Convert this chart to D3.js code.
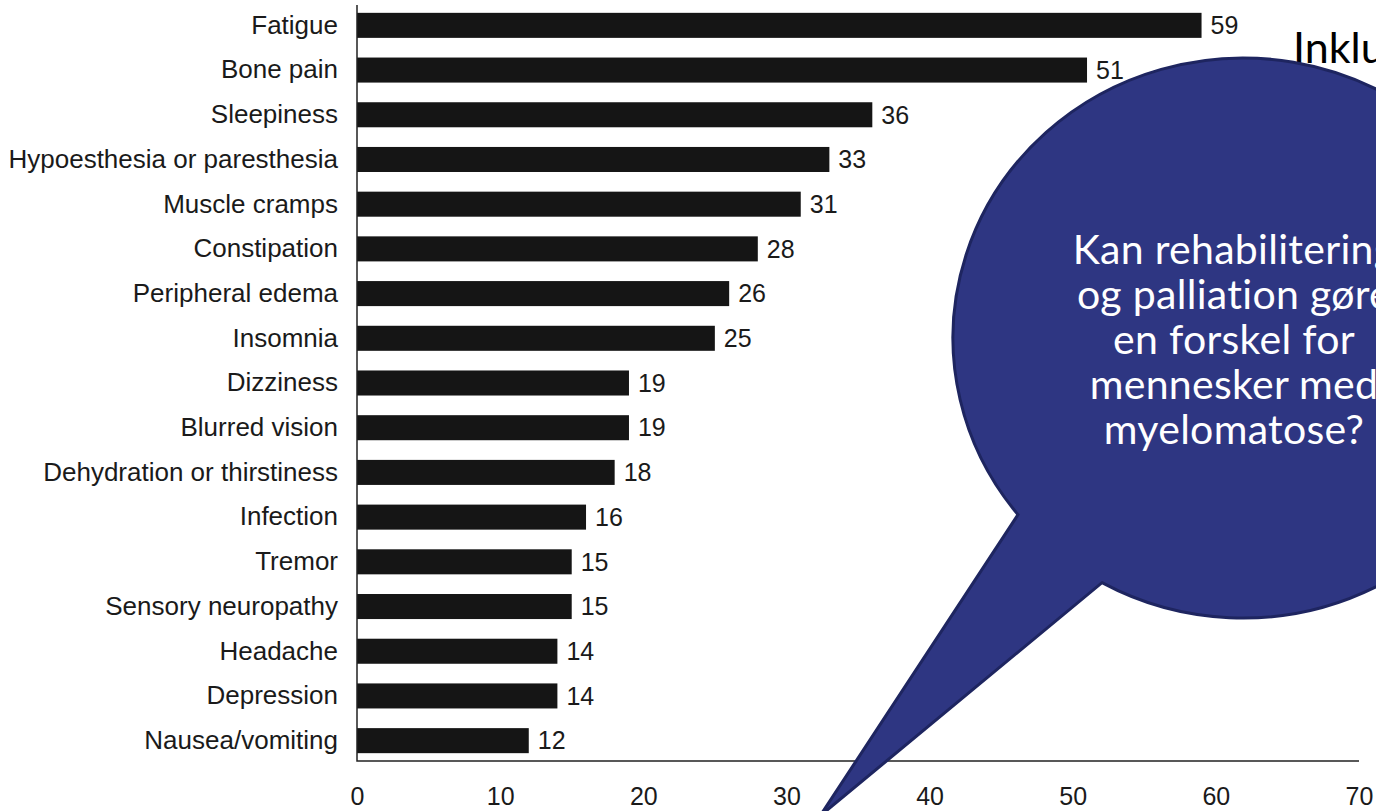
<!DOCTYPE html>
<html>
<head>
<meta charset="utf-8">
<script src="https://cdn.jsdelivr.net/npm/d3@7"></script>
<style>
  html, body { margin: 0; padding: 0; background: #fff; }
  svg { display: block; }
  .axis text { font-family: "Liberation Sans", Arial, sans-serif; fill: #1a1a1a; }
  .bubble-text {
    font-family: Lato, "Open Sans", sans-serif;
    fill: #fff;
    font-variant-ligatures: none;
    font-feature-settings: "liga" 0, "clig" 0, "dlig" 0;
    letter-spacing: 0.3px;
  }
</style>
</head>
<body>
<div id="chart"></div>
<script>
const symptoms = [
  "Fatigue",
  "Bone pain",
  "Sleepiness",
  "Hypoesthesia or paresthesia",
  "Muscle cramps",
  "Constipation",
  "Peripheral edema",
  "Insomnia",
  "Dizziness",
  "Blurred vision",
  "Dehydration or thirstiness",
  "Infection",
  "Tremor",
  "Sensory neuropathy",
  "Headache",
  "Depression",
  "Nausea/vomiting",
];
const percentages = [59, 51, 36, 33, 31, 28, 26, 25, 19, 19, 18, 16, 15, 15, 14, 14, 12];
const xTicks = [0, 10, 20, 30, 40, 50, 60, 70];
const bubbleLines = [
  "Kan rehabilitering",
  "og palliation gøre",
  "en forskel for",
  "mennesker med",
  "myelomatose?",
];
const headingText = "Inklusion";

class SymptomBars {
  constructor({ el, width, height }) {
    this.el = el;
    this.width = width;
    this.height = height;
    this.init();
  }

  init() {
    this.svg = d3
      .select(this.el)
      .append("svg")
      .attr("width", this.width)
      .attr("height", this.height);

    this.x = d3.scaleLinear().domain([0, 70]).range([357, 1359]);
    this.y = d3
      .scaleBand()
      .domain(symptoms)
      .range([3, 763])
      .paddingInner(0.44)
      .paddingOuter(0.22);

    this.data = symptoms.map((name, i) => ({ name, value: percentages[i] }));
  }

  render() {
    this.renderBars();
    this.renderAxes();
    this.renderHeading();
    this.renderBubble();
  }

  renderBars() {
    const g = this.svg.append("g").attr("class", "bars");

    g.selectAll("rect")
      .data(this.data)
      .join("rect")
      .attr("x", this.x(0))
      .attr("y", (d) => this.y(d.name))
      .attr("width", (d) => this.x(d.value) - this.x(0))
      .attr("height", this.y.bandwidth())
      .attr("fill", "#151515");

    g.selectAll("text")
      .data(this.data)
      .join("text")
      .attr("x", (d) => this.x(d.value) + 9)
      .attr("y", (d) => this.y(d.name) + this.y.bandwidth() / 2)
      .attr("dy", "0.35em")
      .attr("font-family", "Liberation Sans, Arial, sans-serif")
      .attr("font-size", 25)
      .attr("fill", "#1a1a1a")
      .text((d) => d.value);
  }

  renderAxes() {
    const bottom = 761;

    this.svg
      .append("g")
      .attr("class", "axis axis--x")
      .attr("transform", `translate(0,${bottom})`)
      .call(
        d3.axisBottom(this.x).tickValues(xTicks).tickSize(0).tickPadding(26)
      )
      .call((g) => g.select(".domain").remove())
      .call((g) => g.selectAll("text").attr("font-size", 25));

    this.svg
      .append("g")
      .attr("class", "axis axis--y")
      .attr("transform", `translate(${this.x(0)},0)`)
      .call(d3.axisLeft(this.y).tickSize(0).tickPadding(19))
      .call((g) => g.select(".domain").remove())
      .call((g) => g.selectAll("text").attr("font-size", 26));

    // plain L-shaped frame, left and bottom only
    this.svg
      .append("path")
      .attr("fill", "none")
      .attr("stroke", "#222")
      .attr("stroke-width", 1.5)
      .attr("d", `M${this.x(0)},5V${bottom}H${this.x(70)}`);
  }

  renderHeading() {
    this.svg
      .append("text")
      .attr("x", 1293)
      .attr("y", 63)
      .attr("font-family", "Lato, Open Sans, sans-serif")
      .attr("font-size", 43)
      .attr("fill", "#000")
      .text(headingText);
  }

  renderBubble() {
    const cx = 1243,
      cy = 338,
      rx = 290,
      ry = 280;
    const onEdge = (px) => {
      const c = (px - cx) / rx;
      return [px, cy + ry * Math.sqrt(1 - c * c)];
    };
    const a = onEdge(1018);
    const b = onEdge(1102);
    const tip = [820, 816];

    const g = this.svg.append("g").attr("class", "bubble");

    g.append("path")
      .attr(
        "d",
        `M${a[0]},${a[1]}A${rx},${ry} 0 1 1 ${b[0]},${b[1]}L${tip[0]},${tip[1]}Z`
      )
      .attr("fill", "#2e3682")
      .attr("stroke", "#1e2560")
      .attr("stroke-width", 3)
      .attr("stroke-linejoin", "miter");

    g.selectAll("text")
      .data(bubbleLines)
      .join("text")
      .attr("class", "bubble-text")
      .attr("x", 1234)
      .attr("y", (d, i) => 264 + i * 45)
      .attr("text-anchor", "middle")
      .attr("font-size", 41)
      .text((d) => d);
  }
}

const chart = new SymptomBars({
  el: document.getElementById("chart"),
  width: 1376,
  height: 811,
});
chart.render();
</script>
</body>
</html>
